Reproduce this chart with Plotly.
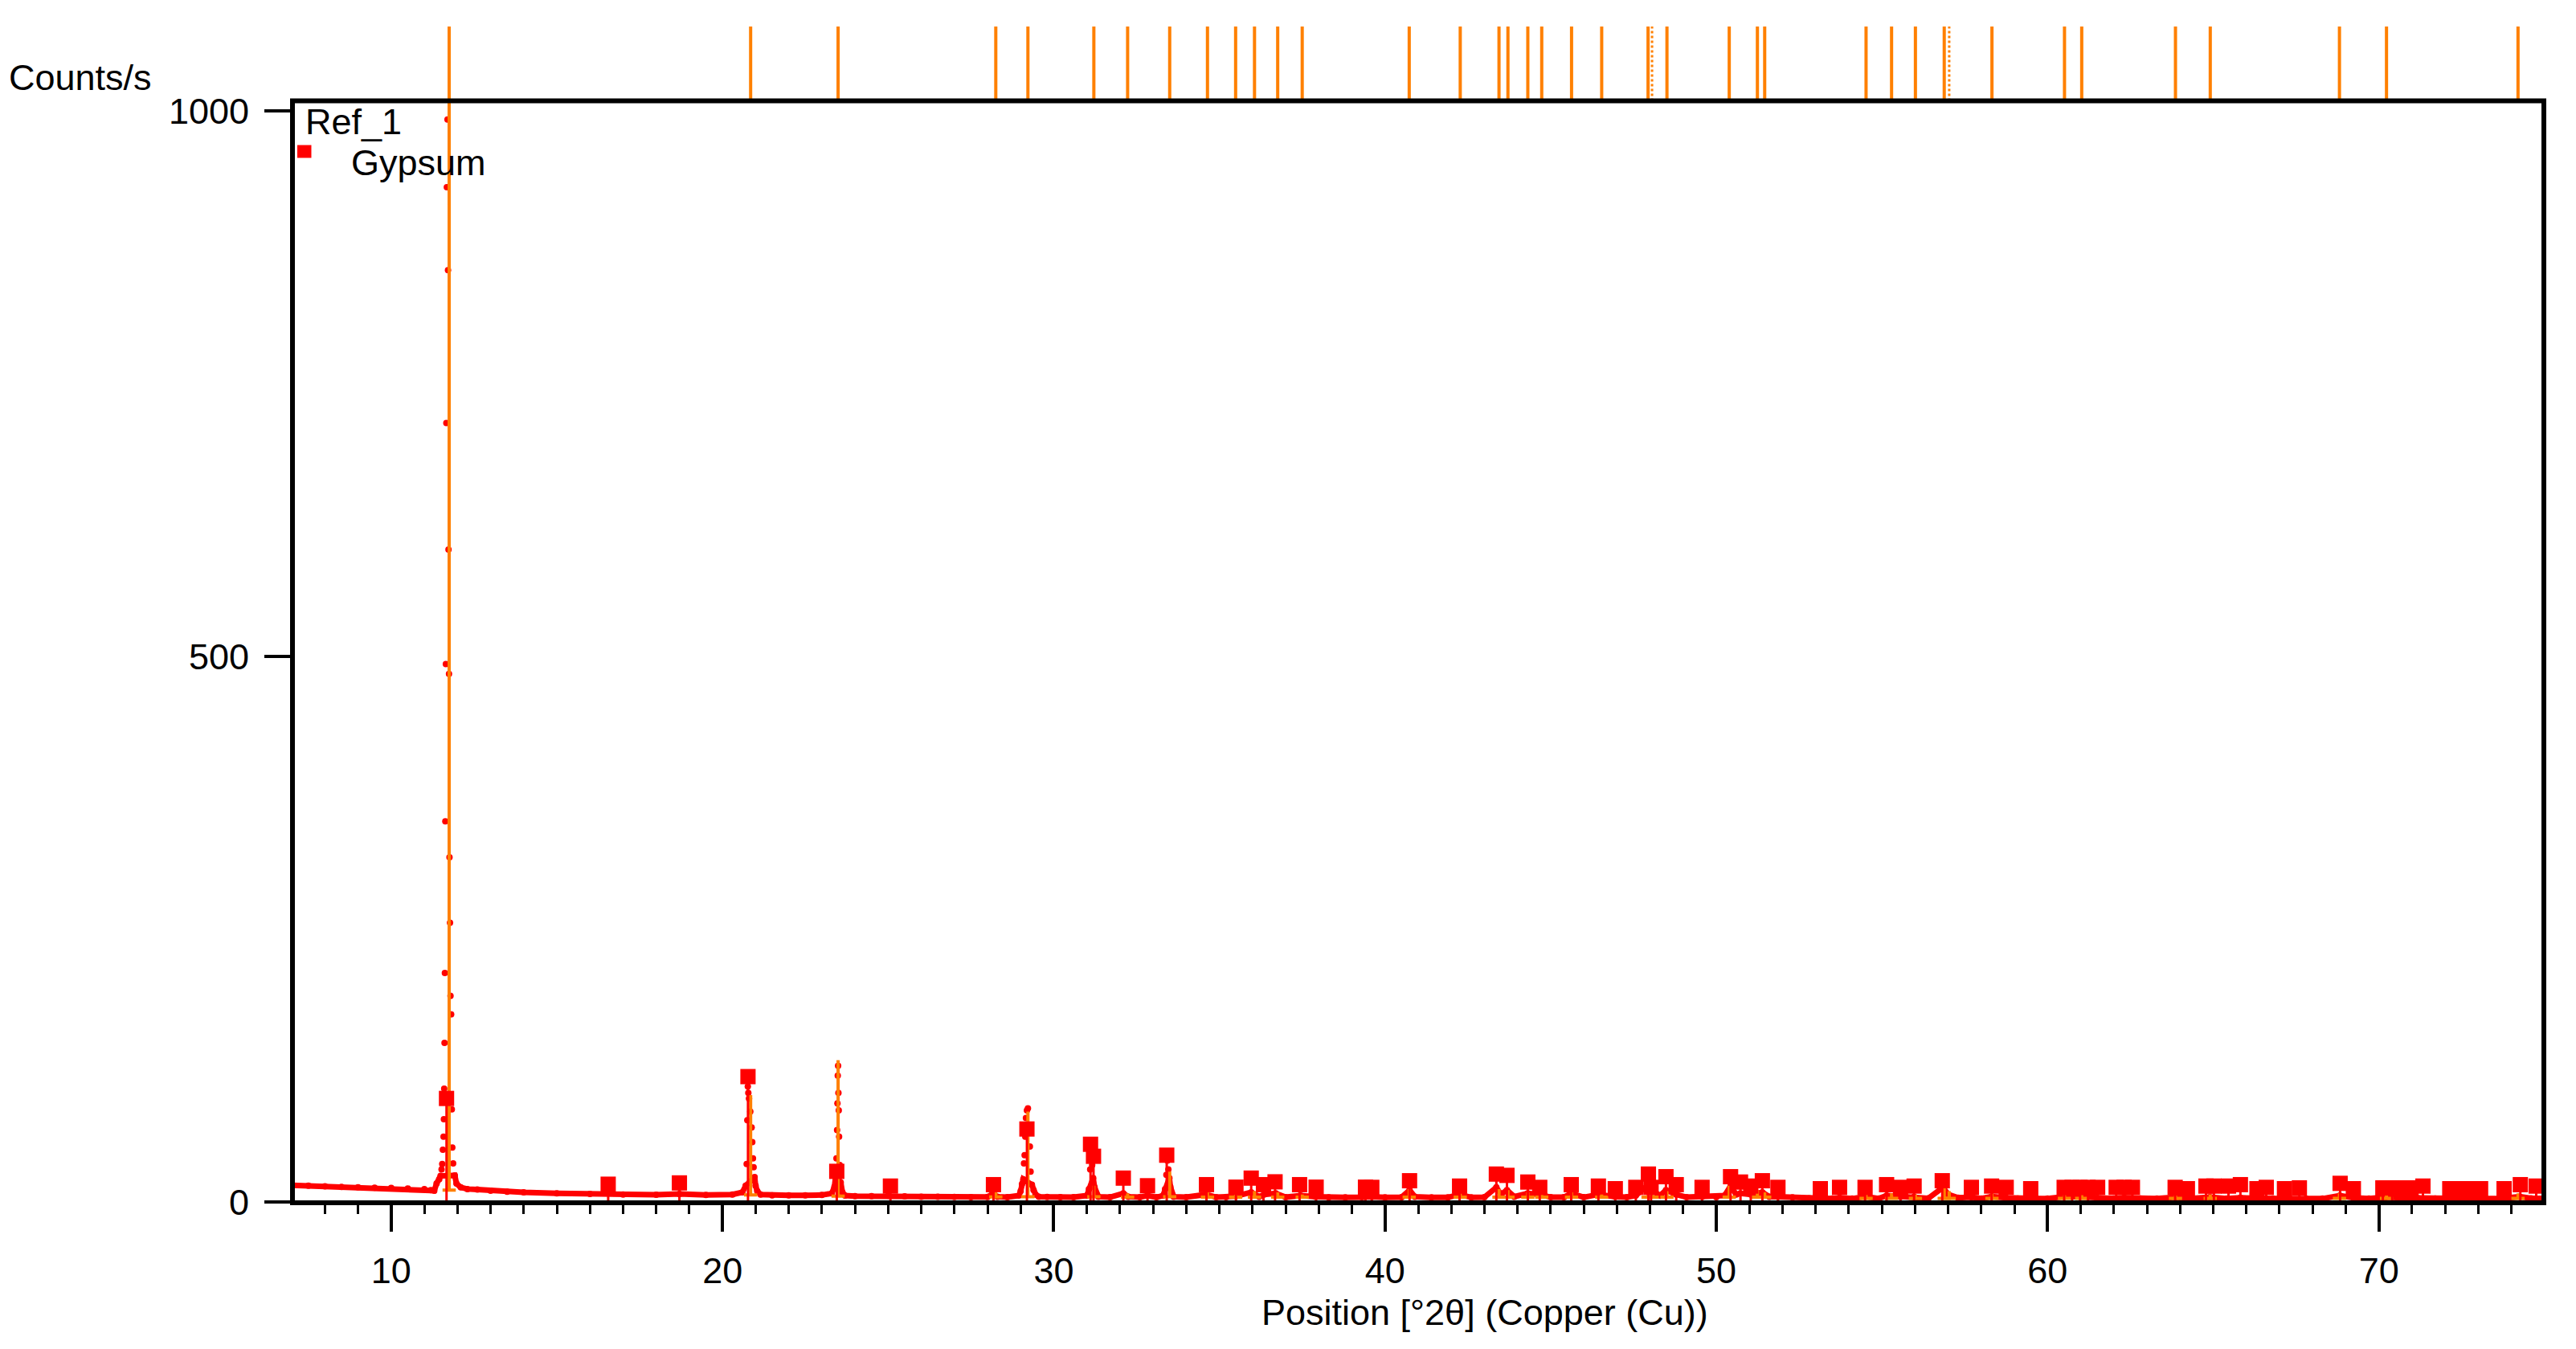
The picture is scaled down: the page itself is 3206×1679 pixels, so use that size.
import plotly.graph_objects as go

# ---------------- data ----------------
# Measured scan (2theta, counts/s)
scan_theta = [7.02, 7.5, 8.0, 8.5, 9.0, 9.5, 10.0, 10.5, 11.0, 11.2, 11.3, 11.37, 11.45, 11.49, 11.52, 11.54, 11.56, 11.58,
              11.59, 11.60, 11.61, 11.62, 11.635, 11.65, 11.665, 11.68, 11.70, 11.715, 11.73, 11.745, 11.76, 11.775, 11.79,
              11.81, 11.83, 11.845, 11.87, 11.92, 11.97, 12.10, 12.3, 12.6, 13.0, 13.5, 14.0, 15.0, 16.0, 16.55, 17.0, 18.0,
              18.7, 19.5, 20.3, 20.6, 20.70, 20.73, 20.75, 20.765, 20.78, 20.80, 20.84, 20.88, 20.90, 20.92, 20.94, 20.97,
              21.0, 21.05, 21.15, 21.5, 22.0, 22.5, 23.0, 23.3, 23.38, 23.42, 23.44, 23.46, 23.47, 23.48, 23.49, 23.50,
              23.51, 23.52, 23.54, 23.57, 23.62, 23.7, 24.0, 24.5, 25.0, 25.5, 26.0, 26.5, 27.0, 27.5, 28.0, 28.15, 28.3,
              28.6, 28.95, 29.00, 29.04, 29.08, 29.10, 29.12, 29.14, 29.16, 29.19, 29.22, 29.25, 29.28, 29.30, 29.34, 29.39,
              29.45, 29.55, 29.8, 30.2, 30.6, 31.0, 31.06, 31.10, 31.13, 31.16, 31.19, 31.23, 31.28, 31.35, 31.7, 32.1,
              32.25, 32.6, 32.83, 33.1, 33.30, 33.36, 33.40, 33.43, 33.46, 33.49, 33.52, 33.56, 33.62, 34.0, 34.6, 34.9,
              35.2, 35.5, 35.96, 36.2, 36.35, 36.7, 37.0, 37.45, 37.9, 38.3, 38.8, 39.3, 39.6, 40.0, 40.5, 40.74, 40.9,
              41.4, 41.9, 42.25, 42.6, 43.0, 43.36, 43.5, 43.68, 43.9, 44.31, 44.67, 45.0, 45.4, 45.62, 46.0, 46.44, 46.95,
              47.3, 47.57, 47.95, 48.1, 48.3, 48.48, 48.79, 49.1, 49.57, 50.0, 50.25, 50.43, 50.6, 50.73, 51.04, 51.39,
              51.6, 51.86, 52.3, 52.8, 53.14, 53.5, 53.72, 54.1, 54.49, 54.9, 55.14, 55.56, 55.97, 56.4, 56.84, 57.0, 57.3,
              57.7, 58.0, 58.31, 58.75, 59.1, 59.49, 60.0, 60.5, 60.98, 61.5, 62.0, 62.31, 62.8, 63.3, 63.86, 64.3, 64.9,
              65.4, 65.82, 66.3, 66.8, 67.3, 67.8, 68.3, 68.82, 69.23, 69.7, 70.2, 70.68, 71.2, 71.7, 72.2, 72.7, 73.2,
              73.7, 74.25, 74.6, 74.98]
scan_counts = [15.5, 15, 14.5, 14, 13.5, 13.2, 13, 12.5, 12, 11, 10.5, 17, 21, 24, 30, 35, 48, 60,
               76, 104, 146, 210, 349, 493, 714, 930, 992, 854, 598, 484, 316, 256, 189,
               172, 85, 50, 35.5, 24.5, 17, 13.5, 12, 11.5, 10.5, 9.5, 9, 8, 7.5, 8.5, 7, 6.8,
               7.5, 6.6, 7, 9, 15, 35, 75, 106, 100, 95, 83, 68.5, 55, 40, 32, 23,
               15, 10, 7, 6.3, 6.2, 6.2, 6.5, 8, 14, 24.5, 40, 66, 90.6, 116, 125, 100,
               84, 60, 34, 18, 9, 6, 5.5, 5.4, 5.8, 5.3, 5, 5, 4.8, 4.6, 4.8, 7.5, 5,
               4.5, 6, 10, 16.5, 21, 35.5, 43, 60, 77, 84, 86, 65, 51, 28, 16, 11,
               7, 5, 4.7, 4.5, 4.5, 6, 12, 30, 42, 34, 22, 13.7, 8, 5, 4.5, 8,
               5, 4.5, 6, 4.5, 6, 12, 25, 38, 30, 22, 14, 8, 5, 4.5, 7, 4.5,
               4.5, 5.5, 9, 5, 7, 8, 4.5, 6, 5, 4.4, 4.3, 4.5, 5, 4.3, 4.5, 11, 5,
               4.3, 4.3, 7, 4.3, 4.5, 13.5, 7, 11, 5, 8, 7, 4.5, 4.5, 8, 4.5, 7, 5,
               4.5, 6, 16, 10, 6, 11, 7, 4.5, 5, 4.5, 6, 14.7, 7, 8, 7, 9,
               5, 5, 4.4, 3.5, 4, 3.3, 4, 3.2, 5, 3.3, 6, 5, 5, 3.5, 13.5, 7, 4,
               4.5, 3.3, 5, 4, 3.2, 3.5, 3.2, 5, 5, 3.5, 3.3, 4, 3.2, 3.2, 4.5, 3.3, 4.5,
               3.3, 4, 3.2, 3.2, 3.2, 3.2, 3.2, 6, 4, 3.2, 4.5, 4, 3.5, 3.2, 3.2, 3.2, 3.2,
               3.2, 5, 3.5, 3.5]

# Peak list (orange): position, height, local background
peak_pos = [11.75, 20.85, 23.49, 28.25, 29.22, 31.21, 32.23, 33.50, 34.64, 35.49, 36.06, 36.76, 37.50, 40.73, 42.27,
            43.44, 43.71, 44.31, 44.73, 45.63, 46.54, 47.94, 48.06, 48.51, 50.39, 51.24, 51.46, 54.52, 55.29, 56.01,
            56.88, 57.03, 58.32, 60.51, 61.03, 63.86, 64.91, 68.81, 70.23, 74.20]
peak_height = [1050, 98, 130, 9, 83, 15, 8, 28, 9, 7, 10, 9, 7, 12, 8,
               12, 11, 9, 8, 9, 7, 16, 12, 10, 15, 11, 9, 7, 8, 7,
               14, 10, 8, 7, 7, 6, 7, 8, 7, 8]
peak_base = [11, 6.6, 5.4, 4.8, 5, 5, 4.5, 5, 4.5, 4.5, 4.5, 4.5, 4.5, 4.5, 4.5,
             4.5, 4.5, 4.5, 4.5, 4.5, 4.5, 4.5, 4.5, 4.5, 4.5, 4.5, 4.5, 3.5, 3.5, 3.5,
             3.5, 3.5, 3.5, 3.5, 3.5, 3.5, 3.5, 3.5, 3.5, 3.5]
peak_pos_dotted = [48.06, 57.03]

# Reference pattern Ref_1: Gypsum
ref_theta = [11.67, 16.55, 18.70, 20.77, 23.45, 25.07, 28.18, 29.19, 31.11, 31.20, 32.10, 32.83, 33.41, 34.61, 35.50,
             35.96, 36.33, 36.68, 37.42, 37.92, 39.41, 39.60, 40.74, 42.25, 43.36, 43.68, 44.31, 44.67, 45.62, 46.44,
             46.95, 47.57, 47.95, 48.03, 48.48, 48.79, 49.57, 50.43, 50.73, 51.04, 51.39, 51.86, 53.14, 53.72, 54.49,
             55.14, 55.56, 55.97, 56.82, 57.70, 58.31, 58.75, 59.49, 60.50, 60.74, 60.98, 61.22, 61.51, 62.07, 62.31,
             62.56, 63.85, 64.22, 64.78, 65.02, 65.46, 65.82, 66.32, 66.60, 67.15, 67.60, 68.83, 69.23, 70.12, 70.40,
             70.68, 70.97, 71.33, 72.14, 72.38, 72.63, 73.07, 73.78, 74.27, 74.75]
ref_intensity = [95, 16.4, 17.6, 115, 28.2, 14.7, 16, 67, 53, 42, 22, 15, 43, 16, 13.7,
                 22, 16, 18.6, 16, 13.7, 13.7, 13.5, 19.6, 14.7, 25.7, 24.5, 18.4, 13.5, 16, 14.7,
                 12.3, 13.5, 25.7, 13.5, 23.3, 16, 13.5, 23.3, 18.4, 14.7, 19.6, 13.5, 12.3, 13.5, 13.5,
                 16, 13.5, 14.7, 19.6, 13.5, 14.7, 13.5, 12.3, 13.5, 13.5, 13.5, 13.5, 13.5, 13.5, 13.5,
                 13.5, 13.5, 12.3, 14.7, 14.7, 14.7, 16, 12.3, 13.5, 12.3, 13, 17.2, 12.3, 13, 13,
                 13, 13, 14.7, 12.3, 12.3, 12.3, 12.3, 12.3, 16, 14.7]

x_ticks = [10, 20, 30, 40, 50, 60, 70]
y_ticks = [0, 500, 1000]

# ---------------- styling ----------------
RED = "#FF0000"
ORANGE = "#FF8000"
FONT = "Liberation Sans, Arial, sans-serif"
FS = 45
OFF = 8  # page body margin of the html page

fig = go.Figure()

# measured scan: dense low part drawn as a continuous band, all points as dots
low_x = [t for t, c in zip(scan_theta, scan_counts) if c < 25]
low_y = [c for c in scan_counts if c < 25]
fig.add_trace(go.Scatter(x=low_x, y=low_y, mode="lines", line=dict(color=RED, width=7),
                         hoverinfo="skip", showlegend=False))
fig.add_trace(go.Scatter(x=scan_theta, y=scan_counts, mode="markers",
                         marker=dict(color=RED, size=8, symbol="circle", line=dict(width=0)),
                         showlegend=False))

# peak list profile (orange sticks with a short base)
px, py = [], []
for p, h, b in zip(peak_pos, peak_height, peak_base):
    px += [p - 0.2, p, p, p, p + 0.2, None]
    py += [b, b, h, b, b, None]
fig.add_trace(go.Scatter(x=px, y=py, mode="lines", line=dict(color=ORANGE, width=4),
                         hoverinfo="skip", showlegend=False))

# reference sticks and squares
sx, sy = [], []
for t, v in zip(ref_theta, ref_intensity):
    sx += [t, t, None]
    sy += [0, v, None]
fig.add_trace(go.Scatter(x=sx, y=sy, mode="lines", line=dict(color=RED, width=3),
                         hoverinfo="skip", showlegend=False))
fig.add_trace(go.Scatter(x=ref_theta, y=ref_intensity, mode="markers",
                         marker=dict(color=RED, size=19, symbol="square", line=dict(width=0)),
                         name="Gypsum", showlegend=False))

# peak-list ticks above the plot
tx, ty = [], []
for p in peak_pos:
    if p in peak_pos_dotted:
        continue
    tx += [p, p, None]
    ty += [0, 1, None]
fig.add_trace(go.Scatter(x=tx, y=ty, mode="lines", line=dict(color=ORANGE, width=4),
                         xaxis="x", yaxis="y2", hoverinfo="skip", showlegend=False))
dx, dy = [], []
for p in peak_pos_dotted:
    dx += [p, p, None]
    dy += [0, 1, None]
fig.add_trace(go.Scatter(x=dx, y=dy, mode="lines", line=dict(color=ORANGE, width=3, dash="dot"),
                         xaxis="x", yaxis="y2", hoverinfo="skip", showlegend=False))

# page-pixel geometry of the reference, shifted by the page margin
W, H = 3206 - 2 * OFF, 1679 - 2 * OFF
left_px, right_px, top_px, bottom_px = 364 - OFF, 3166.5 - OFF, 29 - OFF, 1497.5 - OFF
ml, mr, mt, mb = left_px, W - right_px, top_px, H - bottom_px
plot_h = H - mt - mb
plot_w = W - ml - mr
frame_top_px = 121.7 - OFF
dom_top = (bottom_px - frame_top_px) / plot_h


def px2paper_x(xp):
    return (xp - OFF - ml) / plot_w


def px2paper_y(yp):
    return (bottom_px - (yp - OFF)) / plot_h


fig.update_layout(
    width=W, height=H,
    margin=dict(l=ml, r=mr, t=mt, b=mb, pad=0),
    paper_bgcolor="white", plot_bgcolor="white",
    font=dict(family=FONT, size=FS, color="black"),
    showlegend=False,
    xaxis=dict(range=[7.02, 74.98], domain=[0, 1], anchor="y",
               tickmode="array", tickvals=x_ticks, ticktext=[str(v) for v in x_ticks],
               ticks="outside", ticklen=35, tickwidth=4, tickcolor="black", ticklabelstandoff=10,
               minor=dict(dtick=1, tick0=0, ticks="outside", ticklen=13, tickwidth=3, tickcolor="black"),
               showgrid=False, zeroline=False, showline=False,
               tickfont=dict(family=FONT, size=FS, color="black")),
    yaxis=dict(range=[-0.6, 1009.2], domain=[0, dom_top], anchor="x",
               tickmode="array", tickvals=y_ticks, ticktext=[str(v) for v in y_ticks],
               ticks="outside", ticklen=34, tickwidth=4, tickcolor="black", ticklabelstandoff=10,
               showgrid=False, zeroline=False, showline=False,
               tickfont=dict(family=FONT, size=FS, color="black")),
    yaxis2=dict(range=[0, 1], domain=[dom_top, 1], anchor="x", visible=False,
                showgrid=False, zeroline=False),
    shapes=[
        dict(type="rect", xref="x domain", yref="y domain", x0=0, x1=1, y0=0, y1=1,
             line=dict(color="black", width=6), fillcolor="rgba(0,0,0,0)", layer="above"),
        dict(type="rect", xref="paper", yref="paper",
             x0=px2paper_x(370), x1=px2paper_x(387.5), y0=px2paper_y(193), y1=px2paper_y(177),
             line=dict(width=0), fillcolor=RED),
    ],
    annotations=[
        dict(text="Counts/s", xref="paper", yref="paper", x=px2paper_x(9), y=px2paper_y(93),
             xanchor="left", yanchor="middle", showarrow=False, font=dict(family=FONT, size=FS)),
        dict(text="Ref_1", xref="paper", yref="paper", x=px2paper_x(378), y=px2paper_y(148),
             xanchor="left", yanchor="middle", showarrow=False, font=dict(family=FONT, size=FS)),
        dict(text="Gypsum", xref="paper", yref="paper", x=px2paper_x(435), y=px2paper_y(199),
             xanchor="left", yanchor="middle", showarrow=False, font=dict(family=FONT, size=FS)),
        dict(text="Position [°2θ] (Copper (Cu))", xref="paper", yref="paper",
             x=px2paper_x(1848), y=px2paper_y(1634),
             xanchor="center", yanchor="middle", showarrow=False, font=dict(family=FONT, size=FS)),
    ],
)

fig.write_html("out.html")
